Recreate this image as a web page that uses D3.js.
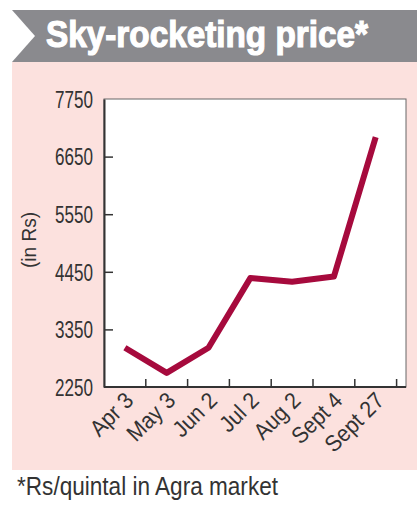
<!DOCTYPE html>
<html lang="en">
<head>
<meta charset="UTF-8">
<title>Sky-rocketing price</title>
<script src="https://d3js.org/d3.v7.min.js"></script>
<style>
  body { margin: 0; background: #ffffff; }
  svg { display: block; }
  .narrow { font-family: "Liberation Sans", Arial, sans-serif; }
</style>
</head>
<body>
<div id="chart"></div>
<script>
  // data
  const dates = ["Apr 3", "May 3", "Jun 2", "Jul 2", "Aug 2", "Sept 4", "Sept 27"];
  const prices = [3000, 2520, 3000, 4330, 4260, 4360, 7020];
  const yTicks = [2250, 3350, 4450, 5550, 6650, 7750];

  const width = 417, height = 508;
  const svg = d3.select("#chart").append("svg")
      .attr("width", width).attr("height", height);

  // squeeze text horizontally to look like a condensed face
  function condense(sel, k) {
    sel.each(function() {
      const w = this.getComputedTextLength();
      d3.select(this).attr("textLength", w * k).attr("lengthAdjust", "spacingAndGlyphs");
    });
  }

  // header band + pink panel
  svg.append("rect").attr("x", 12).attr("y", 10).attr("width", width - 12).attr("height", 52)
      .attr("fill", "#8a8a8e");
  svg.append("path").attr("d", "M12,10 L35,36 L12,62 Z").attr("fill", "#ffffff");
  svg.append("rect").attr("x", 12).attr("y", 62).attr("width", width - 12).attr("height", 408)
      .attr("fill", "#fce1de");

  svg.append("text").attr("class", "narrow")
      .attr("x", 46).attr("y", 47)
      .attr("textLength", 322).attr("lengthAdjust", "spacingAndGlyphs")
      .attr("font-size", 37).attr("font-weight", "bold").attr("fill", "#ffffff")
      .attr("stroke", "#ffffff").attr("stroke-width", 1.2)
      .text("Sky-rocketing price*");

  // plot area
  const plotL = 104, plotR = 406, plotT = 99, plotB = 387;
  svg.append("rect").attr("x", plotL).attr("y", plotT)
      .attr("width", plotR - plotL).attr("height", plotB - plotT)
      .attr("fill", "#ffffff").attr("stroke", "#666").attr("stroke-width", 1);

  const x = d3.scaleBand().domain(dates).range([plotL, plotL + 7 * 41.8]).padding(0);
  const y = d3.scaleLinear().domain([2250, 7750]).range([plotB, plotT]);

  // y axis, ticks pointing inward
  const yAxis = svg.append("g").attr("transform", `translate(${plotL},0)`)
      .call(d3.axisLeft(y).tickValues(yTicks).tickSize(-9).tickSizeOuter(0).tickPadding(10)
        .tickFormat(d3.format("d")));
  yAxis.select(".domain").attr("stroke", "#333").attr("stroke-width", 2);
  yAxis.selectAll(".tick line").attr("stroke", "#333").attr("stroke-width", 1.5)
      .attr("display", d => (d === 2250 || d === 7750) ? "none" : null);
  yAxis.selectAll(".tick text").attr("class", "narrow")
      .style("font-size", "23px").attr("fill", "#333").attr("x", -11).attr("dy", "0.36em")
      .attr("textLength", 38).attr("lengthAdjust", "spacingAndGlyphs");

  // x axis: ticks at band boundaries, labels at data points
  const xAxis = svg.append("g");
  xAxis.append("line").attr("x1", plotL).attr("x2", plotR).attr("y1", plotB).attr("y2", plotB)
      .attr("stroke", "#333").attr("stroke-width", 2);
  xAxis.selectAll(".xt").data(dates).join("line")
      .attr("x1", d => x(d) + x.bandwidth()).attr("x2", d => x(d) + x.bandwidth())
      .attr("y1", plotB).attr("y2", plotB - 8)
      .attr("stroke", "#333").attr("stroke-width", 1.5);
  xAxis.selectAll(".xl").data(dates).join("text").attr("class", "narrow")
      .attr("transform", d => `translate(${x(d) + x.bandwidth() / 2 + 10},${plotB + 15}) rotate(-45)`)
      .attr("text-anchor", "end")
      .style("font-size", "23px").attr("fill", "#333")
      .text(d => d)
      .call(condense, 0.92);

  svg.append("text").attr("class", "narrow")
      .attr("transform", "translate(36,240) rotate(-90)")
      .attr("text-anchor", "middle").style("font-size", "20px").attr("fill", "#333")
      .attr("textLength", 56).attr("lengthAdjust", "spacingAndGlyphs")
      .text("(in Rs)");

  // price line
  const line = d3.line()
      .x((d, i) => x(dates[i]) + x.bandwidth() / 2)
      .y(d => y(d));
  svg.append("path").datum(prices)
      .attr("d", line)
      .attr("fill", "none").attr("stroke", "#a60a3d").attr("stroke-width", 6)
      .attr("stroke-linejoin", "round");

  svg.append("text").attr("class", "narrow")
      .attr("x", 17).attr("y", 495)
      .attr("textLength", 261).attr("lengthAdjust", "spacingAndGlyphs")
      .style("font-size", "25px").attr("fill", "#333")
      .text("*Rs/quintal in Agra market");
</script>
</body>
</html>
